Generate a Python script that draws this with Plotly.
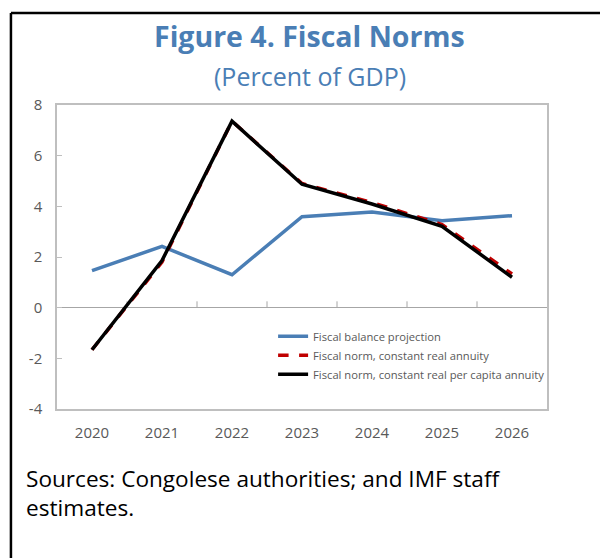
import plotly.graph_objects as go

years = ["2020", "2021", "2022", "2023", "2024", "2025", "2026"]
fiscal_balance = [1.46, 2.42, 1.30, 3.59, 3.78, 3.43, 3.63]
norm_real_annuity = [-1.66, 1.80, 7.36, 4.90, 4.15, 3.28, 1.33]
norm_per_capita = [-1.66, 1.86, 7.36, 4.87, 4.09, 3.21, 1.20]
y_ticks = [-4, -2, 0, 2, 4, 6, 8]
y_tick_labels = ["-4", "-2", "0", "2", "4", "6", "8"]

BLUE = "#4A7EB5"
GREY_TXT = "#595959"
FONT = "Open Sans"

fig = go.Figure()
fig.add_trace(go.Scatter(x=years, y=fiscal_balance, mode="lines",
                         name="Fiscal balance projection",
                         line=dict(color=BLUE, width=3.5)))
fig.add_trace(go.Scatter(x=years, y=norm_real_annuity, mode="lines",
                         name="Fiscal norm, constant real annuity",
                         line=dict(color="#C00000", width=3.5, dash="dash")))
fig.add_trace(go.Scatter(x=years, y=norm_per_capita, mode="lines",
                         name="Fiscal norm, constant real per capita annuity",
                         line=dict(color="#000000", width=3.5)))

# category boundary ticks on the zero line
for i in range(len(years) - 1):
    fig.add_shape(type="line", xref="x", yref="y", x0=i + 0.5, x1=i + 0.5,
                  y0=0, y1=0.25, line=dict(color="#A6A6A6", width=1), layer="below")

# frame lines (top and left)
fig.add_shape(type="line", xref="paper", yref="paper", x0=-0.094, x1=1.2,
              y0=1.303, y1=1.303, line=dict(color="black", width=2.5))
fig.add_shape(type="line", xref="paper", yref="paper", x0=-0.094, x1=-0.094,
              y0=1.303, y1=-0.5, line=dict(color="black", width=2.5))

fig.add_annotation(text="<b>Figure 4. Fiscal Norms</b>", xref="paper", yref="paper",
                   x=0.516, y=1.228, xanchor="center", yanchor="middle", showarrow=False,
                   font=dict(family=FONT, size=28.5, color=BLUE))
fig.add_annotation(text="(Percent of GDP)", xref="paper", yref="paper",
                   x=0.516, y=1.094, xanchor="center", yanchor="middle", showarrow=False,
                   font=dict(family=FONT, size=25, color=BLUE))
fig.add_annotation(text="Sources: Congolese authorities; and IMF staff<br>estimates.",
                   xref="paper", yref="paper", x=-0.068, y=-0.172, xanchor="left",
                   yanchor="top", align="left", showarrow=False,
                   font=dict(family=FONT, size=22.6, color="#000000"))

fig.update_layout(
    width=600, height=558,
    margin=dict(l=57, r=53, t=105, b=149),
    paper_bgcolor="white", plot_bgcolor="white",
    font=dict(family=FONT, color=GREY_TXT),
    showlegend=True,
    legend=dict(x=0.441, y=0.287, xanchor="left", yanchor="top",
                bgcolor="rgba(0,0,0,0)", font=dict(size=11.2, color=GREY_TXT),
                tracegroupgap=0, itemwidth=30),
    xaxis=dict(type="category", categoryorder="array", categoryarray=years,
               range=[-0.5, 6.5], showgrid=False, showline=True, mirror=True,
               linecolor="#BFBFBF", linewidth=1.5, ticks="",
               ticklabelstandoff=9,
               tickfont=dict(size=15, color=GREY_TXT)),
    yaxis=dict(range=[-4, 8], tickvals=y_ticks, ticktext=y_tick_labels,
               showgrid=False, showline=True,
               mirror=True, linecolor="#BFBFBF", linewidth=1.5,
               zeroline=True, zerolinecolor="#A6A6A6", zerolinewidth=1,
               ticks="inside", ticklen=5, tickcolor="#BFBFBF",
               ticklabelstandoff=10,
               tickfont=dict(size=15, color=GREY_TXT)),
)

fig.write_html("out.html")
